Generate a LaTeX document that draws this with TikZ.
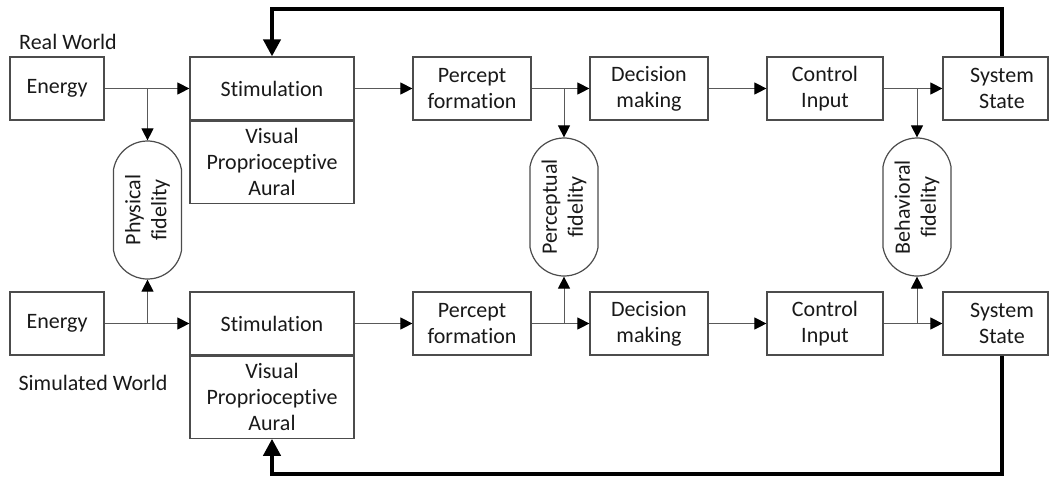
\documentclass[tikz,border=0pt]{standalone}
\usepackage{fontspec}
\setmainfont{Carlito}[Ligatures=NoCommon]
\usetikzlibrary{arrows.meta,shapes.misc}

\begin{document}
\begin{tikzpicture}[x=0.5pt,y=-0.5pt,
  every node/.style={font=\fontsize{11}{13}\selectfont,text=black!90},
  block/.style={draw=black!70,line width=0.6pt,minimum height=31.5pt,align=center,inner sep=0pt},
  pill/.style={rounded rectangle,rounded rectangle arc length=160,draw=black!70,line width=0.6pt,rotate=90,minimum width=69pt,minimum height=34pt,align=center,inner sep=0pt},
  flow/.style={draw=black!65,line width=0.5pt,-{Triangle[length=6pt,width=6pt,black]}},
  feedback/.style={line width=2pt,-{Triangle[length=8.5pt,width=8.5pt]}}]

  \useasboundingbox (0,0) rectangle (1049,478);

  % real world chain
  \node at (68,42) (realLbl) {Real World};
  \node [block,minimum width=47pt] at (57,88.5) (enR) {Energy};
  \node [block,minimum width=82pt] at (272,88.5) (stimR) {Stimulation};
  \node [block,minimum width=82pt,minimum height=41pt,anchor=north] at (stimR.south) (sensR) {Visual\\Proprioceptive\\Aural};
  \node [block,minimum width=59pt] at (472,88.5) (percR) {Percept\\formation};
  \node [block,minimum width=59pt] at (649,88.5) (decR) {Decision\\making};
  \node [block,minimum width=58pt] at (825,88.5) (ctlR) {Control\\Input};
  \node [block,minimum width=52.5pt] at (995.5,88.5) (sysRbox) {};
  \node [align=center] at (1002,88.5) (sysR) {System\\State};

  % simulated world chain
  \node at (93,383) (simLbl) {Simulated World};
  \node [block,minimum width=47pt] at (57,323.5) (enS) {Energy};
  \node [block,minimum width=82pt] at (272,323.5) (stimS) {Stimulation};
  \node [block,minimum width=82pt,minimum height=41pt,anchor=north] at (stimS.south) (sensS) {Visual\\Proprioceptive\\Aural};
  \node [block,minimum width=59pt] at (472,323.5) (percS) {Percept\\formation};
  \node [block,minimum width=59pt] at (649,323.5) (decS) {Decision\\making};
  \node [block,minimum width=58pt] at (825,323.5) (ctlS) {Control\\Input};
  \node [block,minimum width=52.5pt] at (995.5,323.5) (sysSbox) {};
  \node [align=center] at (1002,323.5) (sysS) {System\\State};

  % fidelity capsules
  \node [pill] at (147.5,210) (physC) {Physical\\fidelity};
  \node [pill] at (564,207) (percC) {Perceptual\\fidelity};
  \node [pill] at (917,207) (behC) {Behavioral\\fidelity};

  % top flow
  \draw [flow] (enR) -- (stimR);
  \draw [flow] (stimR) -- (percR);
  \draw [flow] (percR) -- (decR);
  \draw [flow] (decR) -- (ctlR);
  \draw [flow] (ctlR) -- (sysRbox);
  \draw [flow] (physC |- enR) -- (physC.east);
  \draw [flow] (percC |- percR) -- (percC.east);
  \draw [flow] (behC |- ctlR) -- (behC.east);

  % bottom flow
  \draw [flow] (enS) -- (stimS);
  \draw [flow] (stimS) -- (percS);
  \draw [flow] (percS) -- (decS);
  \draw [flow] (decS) -- (ctlS);
  \draw [flow] (ctlS) -- (sysSbox);
  \draw [flow] (physC |- enS) -- (physC.west);
  \draw [flow] (percC |- percS) -- (percC.west);
  \draw [flow] (behC |- ctlS) -- (behC.west);

  % feedback loops
  \coordinate (fbTop) at (1002,9);
  \coordinate (fbBot) at (1002,474);
  \draw [feedback] (sysR |- sysRbox.north) -- (fbTop) -| (stimR.north);
  \draw [feedback] (sysS |- sysSbox.south) -- (fbBot) -| (sensS.south);

\end{tikzpicture}
\end{document}
